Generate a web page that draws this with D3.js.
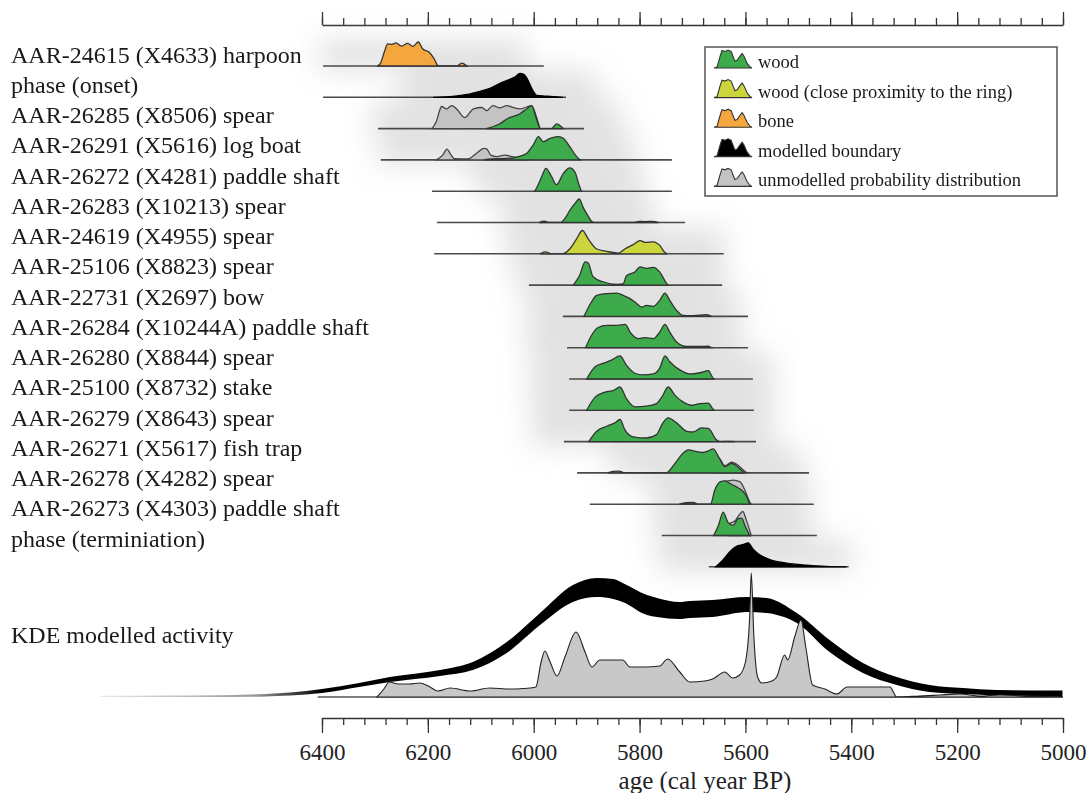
<!DOCTYPE html>
<html>
<head>
<meta charset="utf-8">
<script src="https://cdn.jsdelivr.net/npm/d3@7"></script>
<style>
	body { margin:0; background:#fff; }
	svg { display:block; font-family:"Liberation Serif","Times New Roman",serif; }
</style>
</head>
<body>
<svg id="chart" width="1088" height="793"></svg>
<script>
// ***************** DATA ********************
var labels = [
	'AAR-24615 (X4633) harpoon',
	'phase (onset)',
	'AAR-26285 (X8506) spear',
	'AAR-26291 (X5616) log boat',
	'AAR-26272 (X4281) paddle shaft',
	'AAR-26283 (X10213) spear',
	'AAR-24619 (X4955) spear',
	'AAR-25106 (X8823) spear',
	'AAR-22731 (X2697) bow',
	'AAR-26284 (X10244A) paddle shaft',
	'AAR-26280 (X8844) spear',
	'AAR-25100 (X8732) stake',
	'AAR-26279 (X8643) spear',
	'AAR-26271 (X5617) fish trap',
	'AAR-26278 (X4282) spear',
	'AAR-26273 (X4303) paddle shaft',
	'phase (terminiation)'
];
var kinds = ['bone','boundary','wood','wood','wood','wood','ring','wood','wood',
	'wood','wood','wood','wood','wood','wood','wood','boundary'];

// extent of the thin base line of every row (cal BP)
var lineFrom = [6398,6398,6294,6289,6192,6183,6188,6009,5945,5937,5933,5933,5943,5918,5894,5758,5669];
var lineTo   = [5981,5939,5905,5739,5739,5714,5641,5644,5595,5595,5586,5584,5580,5480,5471,5465,5405];

// modelled distributions, [year, relative probability]
var modelled = [
	[[6296,0],[6290,0.1],[6282,0.6],[6276,0.92],[6268,0.9],[6260,0.96],[6250,0.83],[6238,0.94],[6228,0.82],[6218,1.0],[6210,0.72],[6198,0.58],[6188,0.3],[6181,0.02],[6175,0],[6145,0],[6136,0.12],[6126,0]],
	[[6190,0],[6153,0.04],[6126,0.12],[6102,0.25],[6083,0.37],[6064,0.58],[6045,0.75],[6035,0.85],[6026,1.0],[6018,0.95],[6013,0.8],[6002,0.3],[5994,0.08],[5980,0.05],[5969,0.04],[5955,0.02],[5945,0]],
	[[6090,0],[6064,0.2],[6051,0.4],[6026,0.62],[6013,0.83],[6004,0.96],[5995,0.42],[5988,0],[5966,0],[5957,0.2],[5944,0]],
	[[6095,0],[6080,0.04],[6050,0.06],[6032,0.12],[6013,0.28],[6001,0.62],[5991,0.97],[5982,0.76],[5969,0.9],[5954,0.97],[5944,0.9],[5932,0.55],[5916,0.07],[5912,0]],
	[[5998,0],[5992,0.25],[5985,0.6],[5977,0.95],[5966,0.6],[5957,0.27],[5944,0.74],[5932,0.97],[5922,0.8],[5915,0.3],[5910,0]],
	[[5990,0],[5980,0.06],[5970,0],[5950,0],[5940,0.2],[5932,0.5],[5922,0.8],[5914,0.98],[5906,0.6],[5898,0.3],[5890,0.04],[5884,0],[5812,0],[5800,0.05],[5790,0.04],[5775,0.05],[5764,0]],
	[[5988,0],[5978,0.08],[5966,0],[5946,0],[5932,0.2],[5919,0.62],[5908,0.97],[5897,0.62],[5881,0.2],[5862,0.1],[5840,0.03],[5828,0.2],[5812,0.38],[5799,0.55],[5790,0.48],[5774,0.5],[5762,0.35],[5752,0.05],[5748,0]],
	[[5925,0],[5913,0.42],[5903,0.97],[5897,0.92],[5888,0.35],[5869,0.14],[5843,0.03],[5831,0.05],[5825,0.38],[5809,0.55],[5799,0.76],[5787,0.7],[5774,0.74],[5762,0.55],[5749,0.07],[5746,0]],
	[[5905,0],[5891,0.6],[5881,0.88],[5862,0.95],[5843,0.97],[5831,0.88],[5818,0.74],[5809,0.6],[5796,0.39],[5787,0.46],[5774,0.42],[5762,0.67],[5752,0.97],[5743,0.67],[5730,0.25],[5718,0.04],[5699,0.03],[5673,0.07],[5664,0]],
	[[5902,0],[5891,0.51],[5879,0.83],[5862,0.93],[5843,0.93],[5827,0.97],[5818,0.65],[5802,0.38],[5790,0.42],[5774,0.38],[5762,0.65],[5752,0.97],[5743,0.65],[5730,0.24],[5711,0.05],[5690,0.05],[5670,0.06],[5664,0]],
	[[5900,0],[5884,0.51],[5869,0.65],[5853,0.79],[5837,0.96],[5825,0.58],[5809,0.24],[5793,0.17],[5774,0.21],[5762,0.45],[5752,0.96],[5743,0.72],[5724,0.38],[5705,0.21],[5686,0.26],[5670,0.35],[5661,0.03],[5658,0]],
	[[5900,0],[5884,0.55],[5865,0.76],[5849,0.83],[5837,0.97],[5825,0.49],[5809,0.14],[5787,0.17],[5768,0.28],[5758,0.55],[5746,0.97],[5733,0.62],[5718,0.35],[5702,0.21],[5686,0.28],[5670,0.3],[5661,0.04],[5658,0]],
	[[5896,0],[5881,0.43],[5862,0.64],[5847,0.78],[5837,0.92],[5828,0.5],[5812,0.2],[5787,0.15],[5768,0.29],[5756,0.78],[5746,0.99],[5730,0.78],[5711,0.43],[5699,0.4],[5683,0.57],[5670,0.55],[5655,0.08],[5648,0],[5630,0.01],[5620,0]],
	[[5860,0],[5850,0.06],[5838,0.07],[5828,0],[5750,0],[5733,0.4],[5718,0.82],[5708,0.96],[5692,0.89],[5680,0.85],[5670,0.92],[5661,1.0],[5651,0.68],[5639,0.26],[5626,0.4],[5617,0.29],[5604,0.05],[5600,0]],
	[[5725,0],[5712,0.06],[5698,0.07],[5690,0],[5666,0],[5658,0.58],[5648,0.93],[5639,0.97],[5629,0.86],[5617,0.72],[5607,0.58],[5598,0.33],[5592,0]],
	[[5660,0],[5651,0.42],[5642,0.97],[5633,0.55],[5623,0.42],[5614,0.7],[5607,0.72],[5601,0.42],[5592,0]],
	[[5656,0],[5642,0.3],[5629,0.64],[5617,0.85],[5604,0.93],[5595,1.0],[5585,0.72],[5573,0.5],[5554,0.3],[5522,0.15],[5485,0.07],[5447,0.02],[5409,0]]
];

// unmodelled (grey) distributions, only where they show
var unmodelled = [null, null,
	[[6192,0],[6184,0.3],[6174,0.92],[6165,0.82],[6155,0.96],[6146,0.83],[6130,0.46],[6114,0.82],[6098,0.88],[6089,0.75],[6077,0.96],[6064,0.86],[6051,0.96],[6039,0.88],[6026,0.82],[6013,0.9],[6004,0.96],[5995,0.5],[5988,0]],
	[[6184,0],[6172,0.2],[6164,0.45],[6156,0.2],[6150,0.05],[6124,0.04],[6108,0.28],[6094,0.48],[6089,0.46],[6081,0.2],[6070,0.14],[6054,0.2],[6042,0.14],[6032,0.1],[6020,0.08],[6010,0]],
	null, null, null, null, null, null, null, null, null,
	[[5652,0],[5650,0.6],[5639,0.3],[5626,0.45],[5616,0.35],[5602,0.08],[5597,0]],
	[[5642,0],[5640,0.95],[5629,0.98],[5623,1.0],[5610,0.93],[5601,0.58],[5592,0.1],[5589,0]],
	[[5632,0],[5630,0.5],[5620,0.6],[5612,0.85],[5605,1.0],[5598,0.62],[5589,0]],
	null
];

// KDE modelled activity: summed distribution and model envelope
var kdeSummed = [[6296,0],[6283,8],[6273,15],[6256,13],[6234,13],[6215,14],[6196,10],[6181,6],[6158,9],[6120,6],[6083,9],[6045,8],[6007,9],[5996,10],[5986,35],[5979,46],[5969,35],[5956,21],[5941,40],[5920,65],[5903,45],[5890,30],[5875,37],[5852,37],[5832,37],[5818,30],[5790,30],[5762,31],[5747,38],[5724,25],[5705,15],[5677,16],[5662,18],[5639,25],[5624,19],[5611,22],[5600,35],[5592,80],[5589,124],[5584,60],[5577,20],[5569,14],[5550,16],[5541,20],[5526,42],[5520,37],[5507,60],[5495,77],[5486,50],[5473,12],[5450,8],[5427,3],[5408,10],[5365,10],[5327,10],[5314,0],[5271,1],[5233,2],[5195,3],[5157,1],[5120,2],[5063,1],[5001,0]];
var kdeYears = [6819,6700,6600,6536,6460,6400,6330,6272,6177,6115,6051,5988,5926,5881,5850,5832,5786,5767,5724,5705,5662,5597,5560,5503,5441,5378,5314,5252,5189,5125,5063,5001];
var kdeUpper = [1.2,1.4,1.8,2.5,4.5,8,14,20,27,35,55,84,112,119,118,114,102,99,95,96,97,100,99,84,57,34,20,12,9,7,6.5,6.5];
var kdeLower = [0,0,0,0.3,1.5,4,10,15,21,27,44,72,95,100,98,95,82,80,78,79,80,85,84,74,45,24,12,5,3,1.5,0.5,0];

var axisMajor = [6400,6200,6000,5800,5600,5400,5200,5000];
var axisMinor = d3.range(6400, 4999, -40);

var legendItems = ['wood','wood (close proximity to the ring)','bone','modelled boundary','unmodelled probability distribution'];
var legendKinds = ['wood','ring','bone','boundary','unmodelled'];
var legendGlyph = [[0,0],[0.08,0.05],[0.16,0.65],[0.21,0.97],[0.29,0.92],[0.37,1],[0.45,0.92],[0.5,0.65],[0.55,0.38],[0.61,0.43],[0.68,0.65],[0.74,0.81],[0.79,0.65],[0.87,0.27],[0.95,0.05],[1,0]];

var colours = { wood:'#3dab4b', ring:'#cdd53c', bone:'#f5a73f', boundary:'#000000', unmodelled:'#c3c3c3' };

// ***************** SCALES ********************
var svg = d3.select('#chart');
var x = d3.scaleLinear().domain([6400,5000]).range([322,1063]);
var h = d3.scaleLinear().domain([0,1]).range([0,-24]);
var yKde = d3.scaleLinear().domain([0,125]).range([697,572]);

var rowY = function(i){ return 66 + i*31.3 };
var labelY = function(i){ return 62.7 + i*30.25 };

var area = d3.area()
	.x(function(d){ return x(d[0]) })
	.y0(0)
	.y1(function(d){ return h(d[1]) })
	.curve(d3.curveMonotoneX);

var defs = svg.append('defs');
defs.append('filter')
	.attr('id','soft')
	.attr('x','-50%').attr('y','-200%').attr('width','200%').attr('height','500%')
	.append('feGaussianBlur')
	.attr('stdDeviation',14);

var grad = defs.append('linearGradient')
	.attr('id','kdeFade')
	.attr('gradientUnits','userSpaceOnUse')
	.attr('x1',x(6819)).attr('x2',x(5000)).attr('y1',0).attr('y2',0);
grad.append('stop').attr('offset',0).attr('stop-color','#e8e8e8');
grad.append('stop').attr('offset',0.16).attr('stop-color','#9a9a9a');
grad.append('stop').attr('offset',0.23).attr('stop-color','#000');
grad.append('stop').attr('offset',1).attr('stop-color','#000');

// ***************** AXES ********************
var styleAxis = function(g){
	g.attr('font-family',null).attr('font-size',null);
	g.selectAll('path,line').attr('stroke','#333').attr('stroke-width',1.3);
};

svg.append('g')
	.attr('transform','translate(0,25)')
	.call(d3.axisTop(x).tickValues(axisMinor).tickSize(7).tickSizeOuter(0).tickFormat(''))
	.call(styleAxis);
svg.append('g')
	.attr('transform','translate(0,25)')
	.call(d3.axisTop(x).tickValues(axisMajor).tickSize(13).tickFormat(''))
	.call(styleAxis)
	.select('.domain').remove();

svg.append('g')
	.attr('transform','translate(0,718)')
	.call(d3.axisBottom(x).tickValues(axisMinor).tickSize(7).tickSizeOuter(0).tickFormat(''))
	.call(styleAxis);
var bottomMajor = svg.append('g')
	.attr('transform','translate(0,718)')
	.call(d3.axisBottom(x).tickValues(axisMajor).tickSize(15).tickFormat(d3.format('d')))
	.call(styleAxis);
bottomMajor.select('.domain').remove();
bottomMajor.selectAll('text')
	.attr('y',42).attr('dy',null)
	.attr('fill','#222')
	.style('font-size','23px');

svg.append('text')
	.attr('x',705).attr('y',789)
	.attr('text-anchor','middle')
	.attr('fill','#222')
	.style('font-size','25px')
	.text('age (cal year BP)');

// ***************** SHADOWS ********************
var extentOf = function(i){
	var pts = modelled[i].concat(unmodelled[i] || []).filter(function(d){ return d[1] > 0.1 });
	return d3.extent(pts, function(d){ return d[0] });
};
svg.append('g')
	.attr('filter','url(#soft)')
	.selectAll('rect')
	.data(labels)
	.enter()
	.append('rect')
	.attr('x', function(d,i){ return x(extentOf(i)[1]) - 65 })
	.attr('y', function(d,i){ return rowY(i) - 26 })
	.attr('width', function(d,i){ var e = extentOf(i); return x(e[0]) - x(e[1]) + 130 })
	.attr('height', 30)
	.attr('fill','#c4c4c4')
	.attr('opacity',0.5);

// ***************** ROWS ********************
svg.append('g')
	.selectAll('text')
	.data(labels)
	.enter()
	.append('text')
	.attr('x',11)
	.attr('y', function(d,i){ return labelY(i) })
	.attr('fill','#1a1a1a')
	.style('font-size','24px')
	.text(function(d){ return d });

var rows = svg.append('g')
	.selectAll('g')
	.data(labels)
	.enter()
	.append('g')
	.attr('transform', function(d,i){ return 'translate(0,' + rowY(i) + ')' });

rows.append('line')
	.attr('x1', function(d,i){ return x(lineFrom[i]) })
	.attr('x2', function(d,i){ return x(lineTo[i]) })
	.attr('stroke','#4a4a4a')
	.attr('stroke-width',1.6);

rows.filter(function(d,i){ return unmodelled[i] })
	.append('path')
	.attr('d', function(d){ return area(unmodelled[labels.indexOf(d)]) })
	.attr('fill', colours.unmodelled)
	.attr('stroke','#444')
	.attr('stroke-width',1.3);

rows.append('path')
	.attr('d', function(d,i){ return area(modelled[i]) })
	.attr('fill', function(d,i){ return colours[kinds[i]] })
	.attr('stroke', function(d,i){ return kinds[i] === 'boundary' ? '#000' : '#333' })
	.attr('stroke-width',1.3);

// ***************** KDE ********************
svg.append('text')
	.attr('x',11).attr('y',643)
	.attr('fill','#1a1a1a')
	.style('font-size','24px')
	.text('KDE modelled activity');

svg.append('line')
	.attr('x1',x(6408)).attr('x2',x(5000))
	.attr('y1',697).attr('y2',697)
	.attr('stroke','#555').attr('stroke-width',1.6);

var band = d3.area()
	.x(function(d,i){ return x(kdeYears[i]) })
	.y0(function(d,i){ return yKde(kdeLower[i]) })
	.y1(function(d,i){ return yKde(kdeUpper[i]) })
	.curve(d3.curveMonotoneX);
svg.append('path')
	.attr('d', band(kdeYears))
	.attr('fill','url(#kdeFade)');

var summed = d3.area()
	.x(function(d){ return x(d[0]) })
	.y0(yKde(0))
	.y1(function(d){ return yKde(d[1]) })
	.curve(d3.curveMonotoneX);
svg.append('path')
	.attr('d', summed(kdeSummed))
	.attr('fill','#c8c8c8')
	.attr('stroke','#222')
	.attr('stroke-width',1.1);

// ***************** LEGEND ********************
var legend = svg.append('g');
legend.append('rect')
	.attr('x',705).attr('y',47)
	.attr('width',352).attr('height',149)
	.attr('fill','#fff')
	.attr('stroke','#555')
	.attr('stroke-width',1.5);

var gx = d3.scaleLinear().range([0,38]);
var gy = d3.scaleLinear().range([0,-18]);
var glyph = d3.area()
	.x(function(d){ return gx(d[0]) })
	.y0(0)
	.y1(function(d){ return gy(d[1]) });

var items = legend.selectAll('g.item')
	.data(legendItems)
	.enter()
	.append('g')
	.classed('item',true)
	.attr('transform', function(d,i){ return 'translate(714,' + (68 + i*29.6) + ')' });
items.append('path')
	.attr('d', glyph(legendGlyph))
	.attr('fill', function(d,i){ return colours[legendKinds[i]] })
	.attr('stroke', '#333')
	.attr('stroke-width',1.1);
items.append('text')
	.attr('x',44)
	.attr('y',0)
	.attr('fill','#1a1a1a')
	.style('font-size','18.5px')
	.text(function(d){ return d });
</script>
</body>
</html>
